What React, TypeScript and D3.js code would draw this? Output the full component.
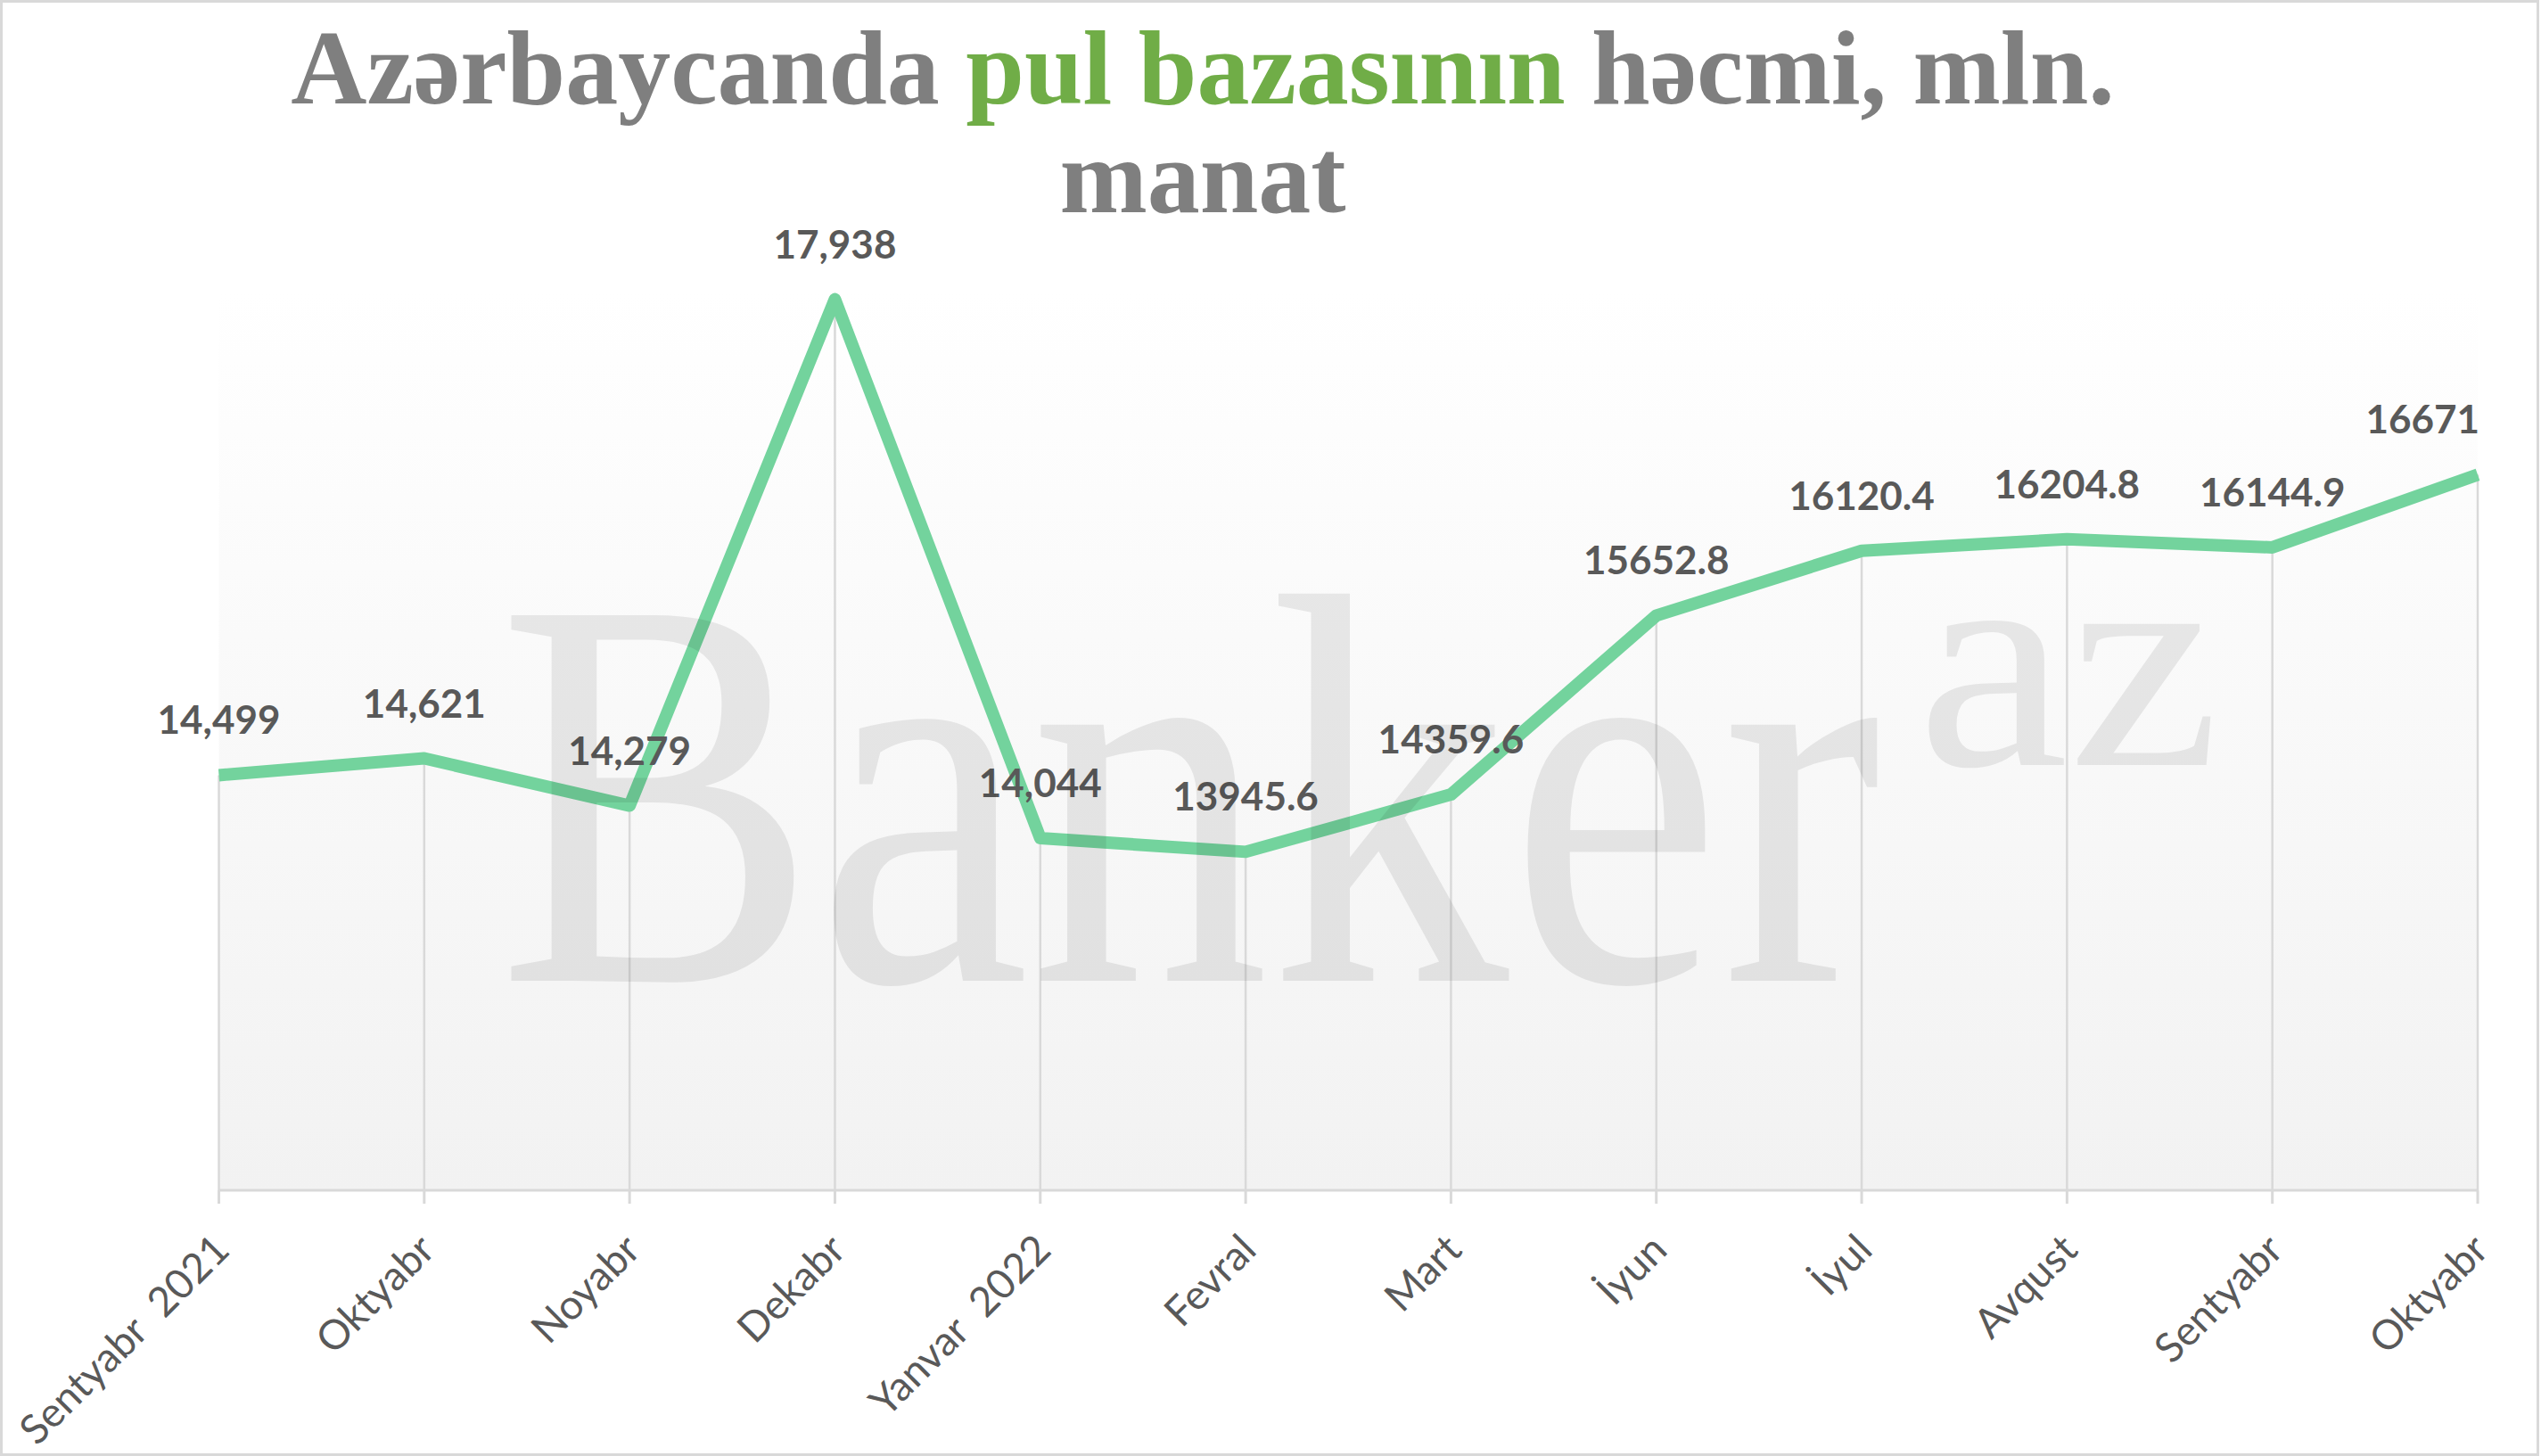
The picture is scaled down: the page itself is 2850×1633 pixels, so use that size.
import React from "react";
import * as d3 from "d3";

const categories = [
  "Sentyabr  2021",
  "Oktyabr",
  "Noyabr",
  "Dekabr",
  "Yanvar  2022",
  "Fevral",
  "Mart",
  "İyun",
  "İyul",
  "Avqust",
  "Sentyabr",
  "Oktyabr",
];
const values = [14499, 14621, 14279, 17938, 14044, 13945.6, 14359.6, 15652.8, 16120.4, 16204.8, 16144.9, 16671];
const valueLabels = ["14,499", "14,621", "14,279", "17,938", "14,044", "13945.6", "14359.6", "15652.8", "16120.4", "16204.8", "16144.9", "16671"];
const titleLine1Before = "Azərbaycanda ";
const titleHighlight = "pul bazasının";
const titleLine1After = " həcmi, mln.";
const titleLine2 = "manat";
const yDomain = [11500, 18000];

const W = 2850;
const H = 1633;

export default function App() {
  const idx = d3.range(values.length);
  const x = d3.scalePoint<number>().domain(idx).range([245.5, 2779]);
  const y = d3.scaleLinear().domain(yDomain).range([1335, 326]);
  const line = d3
    .line<number>()
    .x((d, i) => x(i) as number)
    .y((d) => y(d));
  const x0 = x(0) as number;
  const x1 = x(values.length - 1) as number;
  const axisY = y(yDomain[0]);
  const labelRightLimit = x1 + 2;

  return (
    <svg
      width={W}
      height={H}
      viewBox={`0 0 ${W} ${H}`}
      style={{ position: "absolute", left: 0, top: 0, background: "#fff" }}
    >
      <defs>
        <linearGradient id="plotbg" x1="0" y1="0" x2="0" y2="1">
          <stop offset="0" stopColor="#ffffff" />
          <stop offset="1" stopColor="#f2f2f2" />
        </linearGradient>
      </defs>
      <rect x={0} y={0} width={W} height={H} fill="#fff" />
      <rect x={1.5} y={1.5} width={W - 5} height={H - 3} fill="none" stroke="#d9d9d9" strokeWidth={3} />

      {/* plot area */}
      <rect x={x0} y={y(yDomain[1])} width={x1 - x0} height={axisY - y(yDomain[1])} fill="url(#plotbg)" />

      {/* drop lines */}
      {values.map((v, i) => (
        <line key={"dl" + i} x1={x(i)} x2={x(i)} y1={y(v)} y2={axisY} stroke="#d9d9d9" strokeWidth={2.5} />
      ))}

      {/* axis */}
      <line x1={x0} x2={x1} y1={axisY} y2={axisY} stroke="#d9d9d9" strokeWidth={3} />
      {idx.map((i) => (
        <line key={"tk" + i} x1={x(i)} x2={x(i)} y1={axisY} y2={axisY + 15} stroke="#d9d9d9" strokeWidth={3} />
      ))}
      {categories.map((c, i) => (
        <text
          key={"cl" + i}
          transform={`translate(${(x(i) as number) + 3},${axisY + 58}) rotate(-45)`}
          textAnchor="end"
          dy="0.35em"
          fontFamily="Lato, 'Open Sans', sans-serif"
          fontSize={46}
          fill="#595959"
          style={{ whiteSpace: "pre" }}
        >
          {c}
        </text>
      ))}

      {/* series line */}
      <path d={line(values) || ""} fill="none" stroke="#73d39d" strokeWidth={14} strokeLinejoin="round" strokeLinecap="butt" />

      {/* data labels */}
      {values.map((v, i) => {
        const cx = x(i) as number;
        const estHalf = (valueLabels[i].length * 24) / 2;
        const overflow = cx + estHalf > labelRightLimit;
        return (
          <text
            key={"vl" + i}
            x={overflow ? labelRightLimit : cx}
            y={y(v) - 46}
            textAnchor={overflow ? "end" : "middle"}
            fontFamily="Lato, 'Open Sans', sans-serif"
            fontWeight={700}
            fontSize={44}
            fill="#595959"
          >
            {valueLabels[i]}
          </text>
        );
      })}

      {/* title */}
      <text x={1349} y={116} textAnchor="middle" fontFamily="'Liberation Serif', serif" fontWeight={700} fontSize={118} fill="#7f7f7f" style={{ whiteSpace: "pre" }}>
        {titleLine1Before}
        <tspan fill="#70ad47">{titleHighlight}</tspan>
        {titleLine1After}
      </text>
      <text x={1349} y={238} textAnchor="middle" fontFamily="'Liberation Serif', serif" fontWeight={700} fontSize={118} fill="#7f7f7f">
        {titleLine2}
      </text>

      {/* watermark */}
      <text x={558} y={1100} fontFamily="'Liberation Serif', serif" fontSize={626} textLength={1552} lengthAdjust="spacingAndGlyphs" fill="#000" fillOpacity={0.08}>
        Banker
      </text>
      <text x={2150} y={858} fontFamily="'Liberation Serif', serif" fontSize={345} textLength={340} lengthAdjust="spacingAndGlyphs" fill="#000" fillOpacity={0.08}>
        az
      </text>
    </svg>
  );
}
